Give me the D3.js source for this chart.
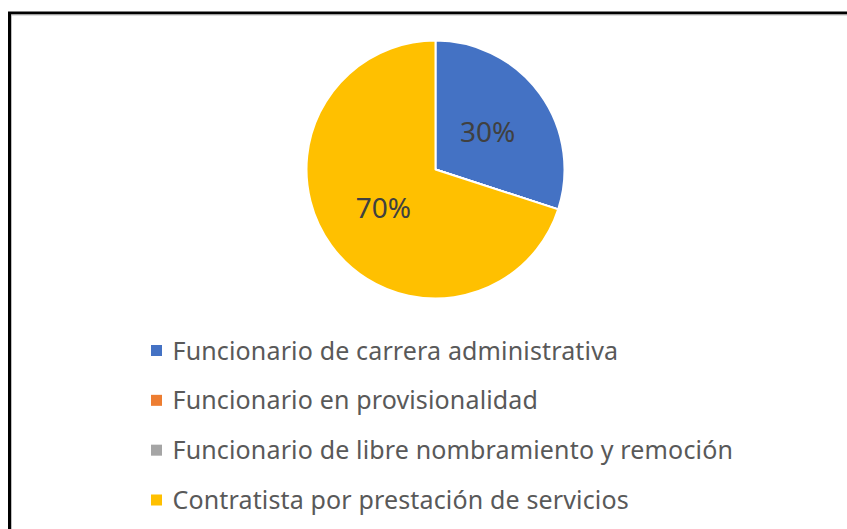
<!DOCTYPE html>
<html>
<head>
<meta charset="utf-8">
<script src="https://cdn.jsdelivr.net/npm/d3@7"></script>
<style>
	html, body {
		margin: 0;
		padding: 0;
		background: #ffffff;
	}

	text {
		font-family: "Noto Sans", "Open Sans", sans-serif;
	}
</style>
</head>
<body>
<div id="chart"></div>
<script>
const categories = [
	"Funcionario de carrera administrativa",
	"Funcionario en provisionalidad",
	"Funcionario de libre nombramiento y remoción",
	"Contratista por prestación de servicios",
];
const values = [30, 0, 0, 70];
const colors = ["#4472c4", "#ed7d31", "#a5a5a5", "#ffc000"];

const width = 847;
const height = 529;

const svg = d3
	.select("#chart")
	.append("svg")
	.attr("width", width)
	.attr("height", height);

// Frame (only top and left edges are visible in the crop)
svg
	.append("path")
	.attr("d", `M9.5,${height}V13H${width}`)
	.attr("fill", "none")
	.attr("stroke", "#000000")
	.attr("stroke-width", 3);
svg
	.append("path")
	.attr("d", `M11.5,${height}V15H${width}`)
	.attr("fill", "none")
	.attr("stroke", "#bfbfbf")
	.attr("stroke-width", 1);

const total = d3.sum(values);
const data = categories.map((name, i) => ({name, value: values[i], color: colors[i]}));

const pie = d3.pie().value((d) => d.value).sort(null);
const radius = 129;
const arc = d3.arc().innerRadius(0).outerRadius(radius);
const labelArc = d3.arc().innerRadius(radius * 0.5).outerRadius(radius * 0.5);

const g = svg.append("g").attr("transform", "translate(435.5,169.5)");

g.selectAll("path.slice")
	.data(pie(data))
	.enter()
	.append("path")
	.attr("class", "slice")
	.attr("d", arc)
	.attr("fill", (d) => d.data.color)
	.attr("stroke", "#ffffff")
	.attr("stroke-width", 2)
	.attr("stroke-linejoin", "round");

g.selectAll("text.pct")
	.data(pie(data).filter((d) => d.data.value > 0))
	.enter()
	.append("text")
	.attr("class", "pct")
	.attr("transform", (d) => `translate(${labelArc.centroid(d)})`)
	.attr("text-anchor", "middle")
	.attr("dy", "0.36em")
	.attr("font-size", 28)
	.attr("fill", "#404040")
	.text((d) => Math.round((d.data.value / total) * 100) + "%");

// Legend
const legendY = d3.scalePoint().domain(categories).range([350.5, 500]);

const legend = svg
	.append("g")
	.selectAll("g")
	.data(data)
	.enter()
	.append("g")
	.attr("transform", (d) => `translate(151,${legendY(d.name)})`);

legend
	.append("rect")
	.attr("x", 0)
	.attr("y", -5.5)
	.attr("width", 11)
	.attr("height", 11)
	.attr("fill", (d) => d.color);

legend
	.append("text")
	.attr("x", 21.5)
	.attr("dy", "0.36em")
	.attr("font-size", 25)
	.attr("letter-spacing", 0.15)
	.attr("fill", "#595959")
	.text((d) => d.name);
</script>
</body>
</html>
